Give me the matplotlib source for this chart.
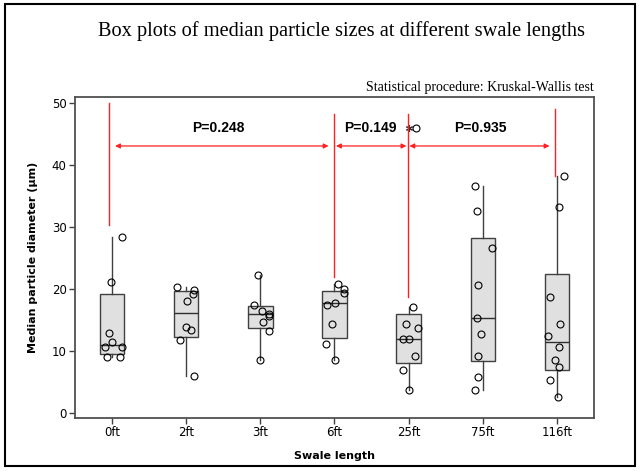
import matplotlib
matplotlib.use("Agg")
import matplotlib.pyplot as plt
import matplotlib.patches as mpatches

# Swale lengths and the median particle diameters (um) measured at each
categories = ["0ft", "2ft", "3ft", "6ft", "25ft", "75ft", "116ft"]

diam_0ft = [28.4, 21.2, 12.9, 11.5, 10.6, 10.6, 9.1, 9.0]
diam_2ft = [20.4, 19.9, 19.2, 18.1, 13.9, 13.4, 11.8, 5.9]
diam_3ft = [22.3, 17.5, 16.5, 16.0, 15.7, 14.7, 13.3, 8.5]
diam_6ft = [20.9, 20.0, 19.3, 17.7, 17.5, 14.4, 11.2, 8.5]
diam_25ft = [46.0, 17.1, 14.4, 13.7, 11.9, 11.9, 9.2, 6.9, 3.8]
diam_75ft = [36.6, 32.6, 26.6, 20.6, 15.4, 12.7, 9.2, 5.8, 3.7]
diam_116ft = [38.2, 33.3, 18.7, 14.4, 12.4, 10.6, 8.5, 7.5, 5.4, 2.6]

# Box summaries (Minitab quartiles)
whisker_low = [9.0, 5.9, 8.5, 8.5, 3.8, 3.7, 2.6]
q1 = [9.6, 12.3, 13.7, 12.1, 8.0, 8.4, 7.0]
medians = [11.0, 16.1, 16.0, 17.7, 11.9, 15.4, 11.5]
q3 = [19.2, 19.7, 17.3, 19.7, 16.0, 28.2, 22.4]
whisker_high = [28.4, 20.4, 22.3, 20.9, 17.1, 36.6, 38.2]
outliers = [[], [], [], [], [46.0], [], []]

# Kruskal-Wallis p-values between the marked swale lengths
p_values = ["P=0.248", "P=0.149", "P=0.935"]

# horizontal spread of the individual points around each box
jitter = [
    [0.13, -0.02, -0.04, 0.0, -0.09, 0.13, -0.07, 0.11],
    [-0.12, 0.11, 0.09, 0.01, 0.0, 0.07, -0.08, 0.11],
    [-0.03, -0.09, 0.02, 0.12, 0.12, 0.03, 0.11, 0.0],
    [0.05, 0.13, 0.13, 0.01, -0.10, -0.04, -0.11, 0.01],
    [0.10, 0.06, -0.03, 0.13, -0.08, 0.01, 0.08, -0.07, 0.0],
    [-0.11, -0.08, 0.13, -0.06, -0.08, -0.02, -0.06, -0.06, -0.11],
    [0.10, 0.03, -0.09, 0.04, -0.12, 0.03, -0.03, 0.03, -0.09, 0.02],
]

ARIAL = ["Liberation Sans", "DejaVu Sans"]
TAHOMA = ["DejaVu Sans"]
SERIF = ["Liberation Serif", "DejaVu Serif"]

fig = plt.figure(figsize=(6.4, 4.71), dpi=100)
ax = fig.add_axes([0.1172, 0.1125, 0.8109, 0.6815])

positions = list(range(1, len(categories) + 1))
stats = []
for i, name in enumerate(categories):
    stats.append(dict(
        label=name, whislo=whisker_low[i], q1=q1[i], med=medians[i],
        q3=q3[i], whishi=whisker_high[i], fliers=outliers[i],
    ))

ax.bxp(
    stats, positions=positions, widths=0.33, patch_artist=True, showcaps=False,
    boxprops=dict(facecolor="#e0e0e0", edgecolor="#404040", linewidth=1.0),
    medianprops=dict(color="#303030", linewidth=1.0),
    whiskerprops=dict(color="#404040", linewidth=1.0),
    flierprops=dict(marker=(6, 2, 0), markersize=5, markeredgecolor="#333333",
                    markeredgewidth=0.8, linestyle="none"),
)

groups = [diam_0ft, diam_2ft, diam_3ft, diam_6ft, diam_25ft, diam_75ft, diam_116ft]
for pos, values, offsets in zip(positions, groups, jitter):
    xs = [pos + dx for dx in offsets]
    ax.plot(xs, values, "o", markersize=5, markerfacecolor="none",
            markeredgecolor="black", markeredgewidth=0.8, zorder=4)

# red comparison markers and arrows
red = "#ff2020"
marker_x = [0.965, 4.0, 4.99, 6.98]
marker_lo = [30.3, 22.0, 18.7, 38.3]
marker_hi = [50.0, 48.3, 48.3, 49.1]
for x, lo, hi in zip(marker_x, marker_lo, marker_hi):
    ax.plot([x, x], [lo, hi], color=red, linewidth=1.0, zorder=3)

arrow_y = 43.1
arrow_spans = [(1.04, 3.92), (4.02, 4.97), (5.01, 6.90)]
label_x = [2.43, 4.48, 5.97]
for (x0, x1), lx, text in zip(arrow_spans, label_x, p_values):
    ax.annotate("", xy=(x1, arrow_y), xytext=(x0, arrow_y),
                arrowprops=dict(arrowstyle="<|-|>", color=red, lw=0.9,
                                mutation_scale=7, shrinkA=0, shrinkB=0))
    ax.text(lx, 46.0, text, ha="center", va="center", fontsize=10,
            fontweight="bold", family=ARIAL)

ax.set_xlim(0.5, 7.5)
ax.set_ylim(-0.8, 51.0)
ax.set_yticks([0, 10, 20, 30, 40, 50])
ax.set_xticks(positions)
ax.set_xticklabels(categories)
for lbl in ax.get_xticklabels() + ax.get_yticklabels():
    lbl.set_family(TAHOMA)
    lbl.set_fontsize(8.5)
ax.tick_params(direction="out", length=4, width=1.0, color="#404040", pad=2)
for spine in ax.spines.values():
    spine.set_color("#505050")
    spine.set_linewidth(1.3)

ax.set_xlabel("Swale length", fontsize=8, fontweight="bold", family=TAHOMA)
ax.set_ylabel("Median particle diameter (\u00b5m)", fontsize=8,
              fontweight="bold", family=TAHOMA)
ax.yaxis.set_label_coords(-0.071, 0.5)
ax.xaxis.set_label_coords(0.5, -0.103)

fig.text(341 / 640, 1 - 31 / 471,
         "Box plots of median particle sizes at different swale lengths",
         ha="center", va="center", fontsize=14.7, family=SERIF)
fig.text(594 / 640, 1 - 87 / 471, "Statistical procedure: Kruskal-Wallis test",
         ha="right", va="center", fontsize=10, family=SERIF)

border = mpatches.Rectangle((5 / 640, 5 / 471), 630 / 640, 462 / 471,
                            transform=fig.transFigure, fill=False,
                            edgecolor="black", linewidth=1.5)
fig.patches.append(border)

fig.savefig("out.png", dpi=100)
